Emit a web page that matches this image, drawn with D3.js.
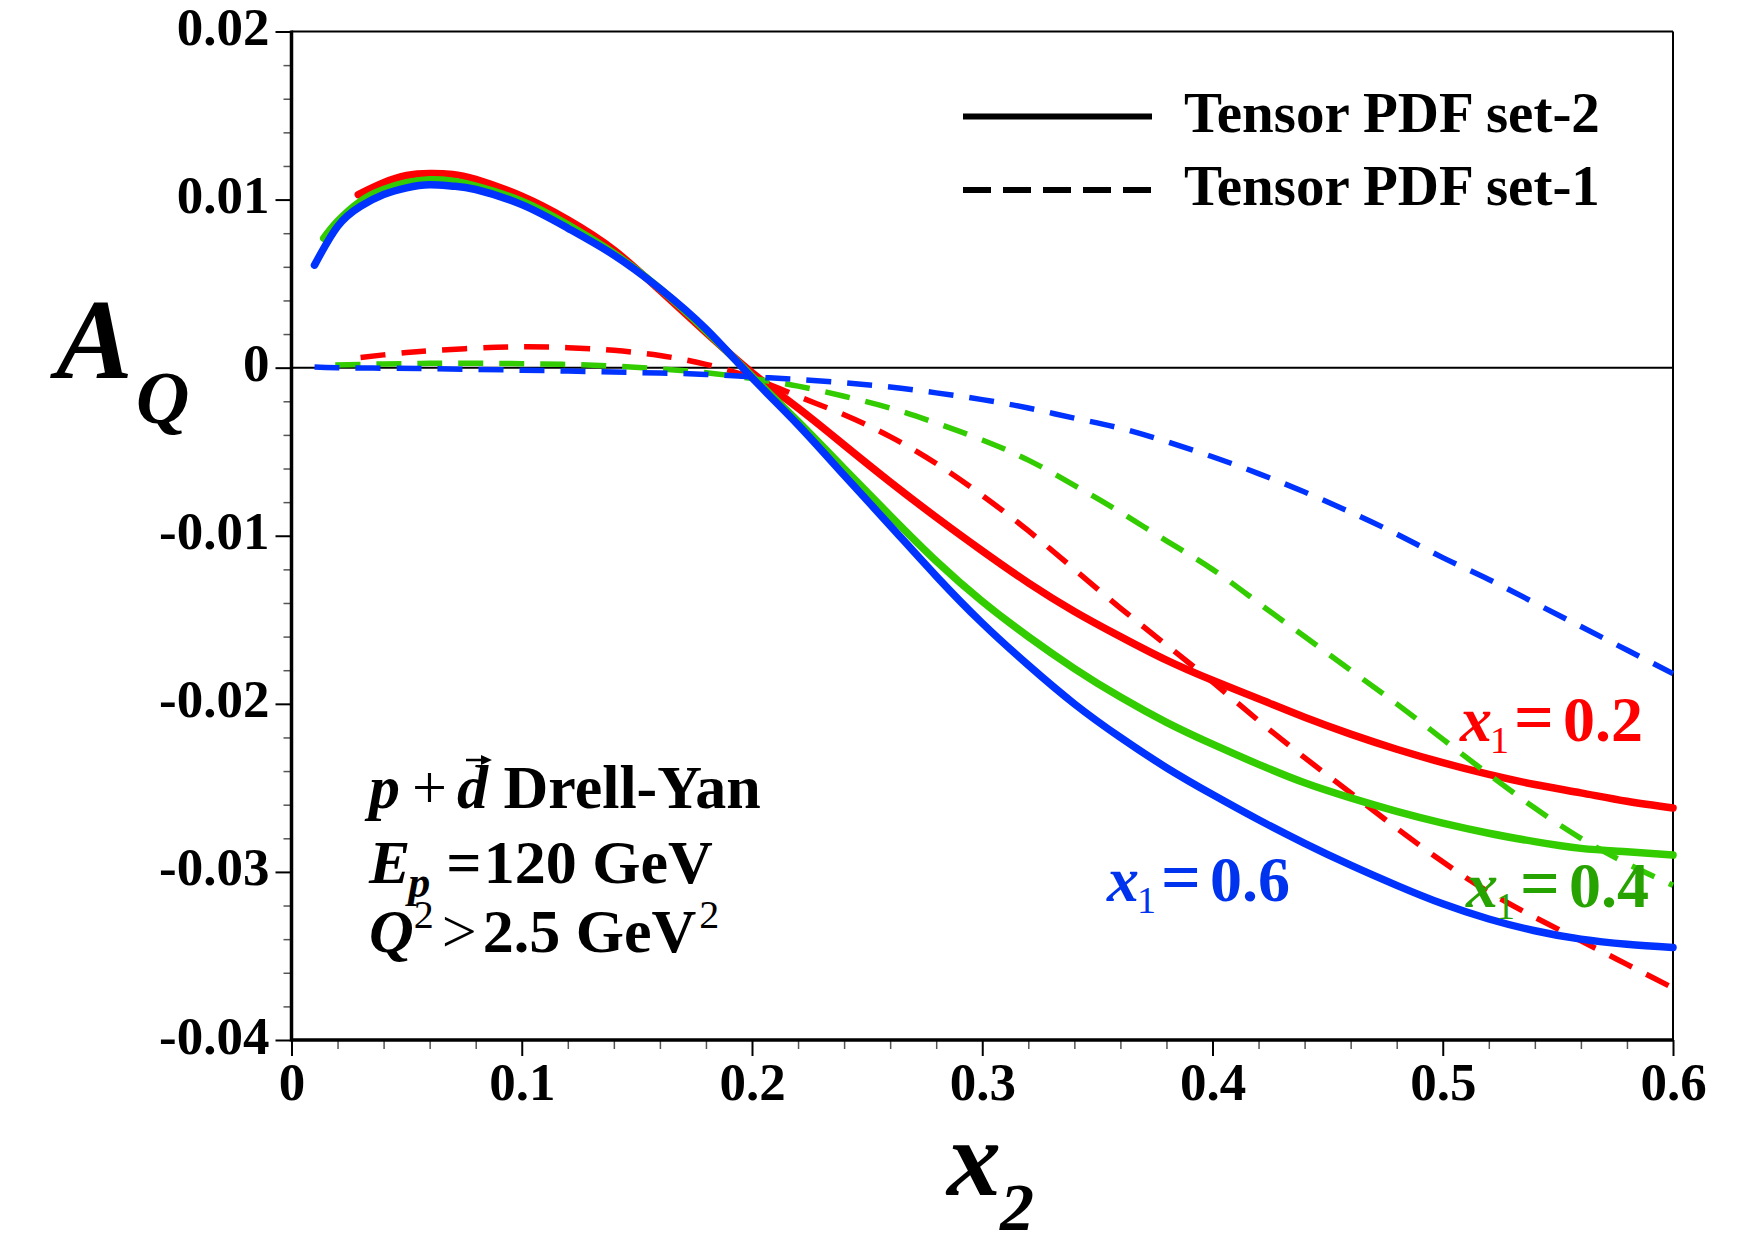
<!DOCTYPE html>
<html>
<head>
<meta charset="utf-8">
<script src="https://cdn.jsdelivr.net/npm/d3@7"></script>
<style>
  html, body { margin: 0; padding: 0; background: #fff; }
  svg text { font-family: "Liberation Serif", "Times New Roman", serif; font-weight: bold; }
</style>
</head>
<body>
<svg id="chart" width="1755" height="1240"></svg>
<script>
// A_Q vs x2 for p + d(pol) Drell-Yan, two tensor-PDF sets, three x1 values.
// Values: [x2, A_Q]
const set2_x1_02 = [[0.029,0.0103],[0.04,0.0110],[0.05,0.01143],[0.06,0.01155],[0.07,0.0115],[0.08,0.0112],[0.10,0.0102],[0.12,0.0088],[0.14,0.0070],[0.16,0.0046],[0.18,0.0021],[0.20,-0.0003],[0.22,-0.0024],[0.24,-0.0046],[0.26,-0.0068],[0.28,-0.0089],[0.30,-0.0109],[0.32,-0.0128],[0.34,-0.0145],[0.36,-0.0160],[0.38,-0.0174],[0.40,-0.0186],[0.42,-0.0197],[0.44,-0.0208],[0.46,-0.0218],[0.48,-0.0227],[0.50,-0.0235],[0.52,-0.0242],[0.54,-0.0248],[0.56,-0.0253],[0.58,-0.0258],[0.60,-0.0262]];
const set2_x1_04 = [[0.014,0.0077],[0.02,0.0087],[0.03,0.0099],[0.04,0.0106],[0.05,0.0110],[0.06,0.01118],[0.07,0.0111],[0.08,0.0108],[0.10,0.0099],[0.12,0.0085],[0.14,0.0068],[0.16,0.0047],[0.18,0.0022],[0.20,-0.0005],[0.22,-0.0032],[0.24,-0.0060],[0.26,-0.0088],[0.28,-0.0115],[0.30,-0.0139],[0.32,-0.0160],[0.34,-0.0179],[0.36,-0.0196],[0.38,-0.0211],[0.40,-0.0224],[0.42,-0.0236],[0.44,-0.0247],[0.46,-0.0256],[0.48,-0.0264],[0.50,-0.0271],[0.52,-0.0277],[0.54,-0.0282],[0.56,-0.0286],[0.58,-0.0288],[0.60,-0.0290]];
const set2_x1_06 = [[0.010,0.0061],[0.02,0.0084],[0.03,0.0096],[0.04,0.0103],[0.05,0.0107],[0.06,0.01088],[0.07,0.0108],[0.08,0.0106],[0.10,0.0097],[0.12,0.0083],[0.14,0.0067],[0.16,0.0047],[0.18,0.0023],[0.20,-0.0006],[0.22,-0.0034],[0.24,-0.0064],[0.26,-0.0094],[0.28,-0.0124],[0.30,-0.0152],[0.32,-0.0177],[0.34,-0.0200],[0.36,-0.0220],[0.38,-0.0238],[0.40,-0.0254],[0.42,-0.0269],[0.44,-0.0283],[0.46,-0.0296],[0.48,-0.0308],[0.50,-0.0319],[0.52,-0.0328],[0.54,-0.0335],[0.56,-0.0340],[0.58,-0.0343],[0.60,-0.0345]];
const set1_x1_02 = [[0.030,0.0006],[0.04,0.00076],[0.05,0.0009],[0.06,0.00101],[0.08,0.00116],[0.10,0.00124],[0.12,0.00119],[0.14,0.00103],[0.16,0.00072],[0.18,0.0002],[0.20,-0.0006],[0.22,-0.0017],[0.24,-0.0028],[0.26,-0.0041],[0.28,-0.0057],[0.30,-0.0076],[0.32,-0.0097],[0.34,-0.0120],[0.36,-0.0143],[0.38,-0.0165],[0.40,-0.0187],[0.42,-0.0210],[0.44,-0.0232],[0.46,-0.0253],[0.48,-0.0274],[0.50,-0.0294],[0.52,-0.0312],[0.54,-0.0327],[0.56,-0.0341],[0.58,-0.0355],[0.60,-0.0369]];
const set1_x1_04 = [[0.019,0.00016],[0.04,0.00022],[0.06,0.00026],[0.08,0.00026],[0.10,0.00024],[0.12,0.00019],[0.14,0.0001],[0.16,-0.00008],[0.18,-0.0003],[0.20,-0.00065],[0.22,-0.0011],[0.24,-0.0017],[0.26,-0.0024],[0.28,-0.0033],[0.30,-0.0043],[0.32,-0.0055],[0.34,-0.0070],[0.36,-0.0086],[0.38,-0.0103],[0.40,-0.0120],[0.42,-0.0140],[0.44,-0.0160],[0.46,-0.0180],[0.48,-0.0200],[0.50,-0.0221],[0.52,-0.0242],[0.54,-0.0262],[0.56,-0.0280],[0.58,-0.0295],[0.60,-0.0308]];
const set1_x1_06 = [[0.010,0.00004],[0.02,0.0],[0.04,-0.00003],[0.06,-0.00006],[0.08,-0.0001],[0.10,-0.00015],[0.12,-0.0002],[0.14,-0.00026],[0.16,-0.00032],[0.18,-0.0004],[0.20,-0.00055],[0.22,-0.0007],[0.24,-0.0009],[0.26,-0.00115],[0.28,-0.0015],[0.30,-0.0019],[0.32,-0.0024],[0.34,-0.0030],[0.36,-0.0036],[0.38,-0.0044],[0.40,-0.0053],[0.42,-0.0063],[0.44,-0.0074],[0.46,-0.0086],[0.48,-0.0099],[0.50,-0.0113],[0.52,-0.0126],[0.54,-0.0140],[0.56,-0.0154],[0.58,-0.0168],[0.60,-0.0182]];

const xMajor = [0, 0.1, 0.2, 0.3, 0.4, 0.5, 0.6];
const yMajor = [-0.04, -0.03, -0.02, -0.01, 0, 0.01, 0.02];
const xMinor = d3.range(0, 31).filter((i) => i % 5 !== 0).map((i) => i * 0.02);
const yMinor = d3.range(-20, 11).filter((i) => i % 5 !== 0).map((i) => i * 0.002);
const legendLabels = ["Tensor PDF set-2", "Tensor PDF set-1"];

const W = 1755, H = 1240;
const plot = { left: 291.5, right: 1673, top: 31.5, bottom: 1040 };
const RED = "#ff0000", GREEN = "#33cc00", BLUE = "#0033ff";

const x = d3.scaleLinear().domain([0, 0.6]).range([plot.left, plot.right]);
const y = d3.scaleLinear().domain([-0.04, 0.02]).range([plot.bottom, plot.top]);

const svg = d3.select("#chart");
svg.append("rect").attr("width", W).attr("height", H).attr("fill", "#fff");

// plain hyphen for negatives, like the original
const fmtY = (d) => (d === 0 ? "0" : d.toFixed(2));
const fmtX = (d) => (d === 0 ? "0" : d.toFixed(1));

// axes: minor ticks, then major ticks with labels
const gx = svg.append("g").attr("transform", `translate(0,${plot.bottom})`);
gx.append("g").call(d3.axisBottom(x).tickValues(xMinor).tickSize(9).tickFormat(""))
  .call((g) => g.select(".domain").remove())
  .call((g) => g.selectAll("line").attr("stroke", "#555").attr("stroke-width", 1.5));
gx.append("g").call(d3.axisBottom(x).tickValues(xMajor).tickSize(16).tickFormat(fmtX))
  .call((g) => g.select(".domain").remove())
  .call((g) => g.selectAll("line").attr("stroke", "#000").attr("stroke-width", 2))
  .call((g) => g.selectAll("text").attr("font-size", 53).attr("fill", "#000")
    .attr("font-family", null).attr("y", 60).attr("dy", null));

const gy = svg.append("g").attr("transform", `translate(${plot.left},0)`);
gy.append("g").call(d3.axisLeft(y).tickValues(yMinor).tickSize(8).tickFormat(""))
  .call((g) => g.select(".domain").remove())
  .call((g) => g.selectAll("line").attr("stroke", "#555").attr("stroke-width", 1.5));
gy.append("g").call(d3.axisLeft(y).tickValues(yMajor).tickSize(16).tickFormat(fmtY))
  .call((g) => g.select(".domain").remove())
  .call((g) => g.selectAll("line").attr("stroke", "#000").attr("stroke-width", 2))
  .call((g) => g.selectAll("text").attr("font-size", 53).attr("fill", "#000")
    .attr("font-family", null).attr("x", -22).attr("dy", null).attr("y", 13));

// frame + zero line
const frame = svg.append("g").attr("stroke", "#000").attr("fill", "none");
frame.append("line").attr("x1", plot.left).attr("x2", plot.right).attr("y1", plot.top).attr("y2", plot.top).attr("stroke-width", 2);
frame.append("line").attr("x1", plot.right).attr("x2", plot.right).attr("y1", plot.top).attr("y2", plot.bottom).attr("stroke-width", 2);
frame.append("line").attr("x1", plot.left).attr("x2", plot.right).attr("y1", plot.bottom).attr("y2", plot.bottom).attr("stroke-width", 3.5);
frame.append("line").attr("x1", plot.left).attr("x2", plot.left).attr("y1", plot.top - 1).attr("y2", plot.bottom + 1.5).attr("stroke-width", 3.5);
frame.append("line").attr("x1", plot.left).attr("x2", plot.right).attr("y1", y(0)).attr("y2", y(0)).attr("stroke-width", 2);

// curves
const series = [
  { data: set2_x1_02, color: RED, dashed: false },
  { data: set1_x1_02, color: RED, dashed: true },
  { data: set2_x1_04, color: GREEN, dashed: false },
  { data: set1_x1_04, color: GREEN, dashed: true },
  { data: set2_x1_06, color: BLUE, dashed: false },
  { data: set1_x1_06, color: BLUE, dashed: true },
];
const line = d3.line().x((d) => x(d[0])).y((d) => y(d[1])).curve(d3.curveNatural);
svg.append("g").selectAll("path").data(series).join("path")
  .attr("fill", "none")
  .attr("stroke", (s) => s.color)
  .attr("stroke-width", (s) => (s.dashed ? 5.5 : 7.5))
  .attr("stroke-linecap", (s) => (s.dashed ? "butt" : "round"))
  .attr("stroke-dasharray", (s) => (s.dashed ? "25,16" : null))
  .attr("d", (s) => line(s.data));

// legend
const leg = svg.append("g");
[0, 1].forEach((i) => {
  const ly = [116.5, 190][i];
  leg.append("line").attr("x1", 963).attr("x2", 1152).attr("y1", ly).attr("y2", ly)
    .attr("stroke", "#000").attr("stroke-width", 6)
    .attr("stroke-dasharray", i === 1 ? "28,12" : null);
  leg.append("text").attr("x", 1184).attr("y", ly + 15).attr("font-size", 57).text(legendLabels[i]);
});

// axis titles
const yt = svg.append("text").attr("x", 56).attr("y", 378);
yt.append("tspan").attr("font-style", "italic").attr("font-size", 115).text("A");
yt.append("tspan").attr("font-style", "italic").attr("font-size", 74).attr("x", 136).attr("y", 423).text("Q");

const xt = svg.append("text").attr("x", 947).attr("y", 1195);
xt.append("tspan").attr("font-style", "italic").attr("font-size", 108).text("x");
xt.append("tspan").attr("font-style", "italic").attr("font-size", 68).attr("x", 1000).attr("y", 1230).text("2");

// x1 labels
function x1Label(px, py, val, color) {
  const t = svg.append("text").attr("x", px).attr("y", py).attr("fill", color);
  t.append("tspan").attr("font-style", "italic").attr("font-size", 64).text("x");
  t.append("tspan").attr("font-size", 38).attr("font-weight", "normal").attr("dx", -2).attr("dy", 12).text("1");
  t.append("tspan").attr("font-size", 70).attr("dx", 5).attr("dy", -12).text("=");
  t.append("tspan").attr("font-size", 64).attr("dx", 9).text(val);
}
x1Label(1460, 741, "0.2", RED);
x1Label(1466, 907, "0.4", "#26a300");
x1Label(1107, 901, "0.6", "#0033ee");

// process text block
const l1 = svg.append("text").attr("x", 369).attr("y", 808).attr("font-size", 62);
l1.append("tspan").attr("font-style", "italic").text("p");
l1.append("tspan").attr("font-weight", "normal").attr("dx", 12).text("+");
l1.append("tspan").attr("font-style", "italic").attr("dx", 10).text("d");
l1.append("tspan").text(" Drell-Yan");
const dBox = l1.node().getExtentOfChar(2);
const ax0 = dBox.x + 9, ax1 = dBox.x + dBox.width + 4, ay = dBox.y + 7;
svg.append("line").attr("x1", ax0).attr("x2", ax1 - 6).attr("y1", ay).attr("y2", ay).attr("stroke", "#000").attr("stroke-width", 2.5);
svg.append("path").attr("d", `M${ax1},${ay} L${ax1 - 11},${ay - 5} L${ax1 - 11},${ay + 5} Z`).attr("fill", "#000");

const l2 = svg.append("text").attr("x", 369).attr("y", 883).attr("font-size", 62);
l2.append("tspan").attr("font-style", "italic").text("E");
l2.append("tspan").attr("font-style", "italic").attr("font-size", 44).attr("dx", -2).attr("dy", 14).text("p");
l2.append("tspan").attr("dx", 16).attr("dy", -14).text("=");
l2.append("tspan").attr("dx", 2).text("120 GeV");

const l3 = svg.append("text").attr("x", 369).attr("y", 952).attr("font-size", 62);
l3.append("tspan").attr("font-style", "italic").text("Q");
l3.append("tspan").attr("font-size", 40).attr("font-weight", "normal").attr("dy", -24).text("2");
l3.append("tspan").attr("font-weight", "normal").attr("dx", 8).attr("dy", 24).text(">");
l3.append("tspan").attr("dx", 6).text("2.5 GeV");
l3.append("tspan").attr("font-size", 40).attr("font-weight", "normal").attr("dx", 3).attr("dy", -24).text("2");
</script>
</body>
</html>
